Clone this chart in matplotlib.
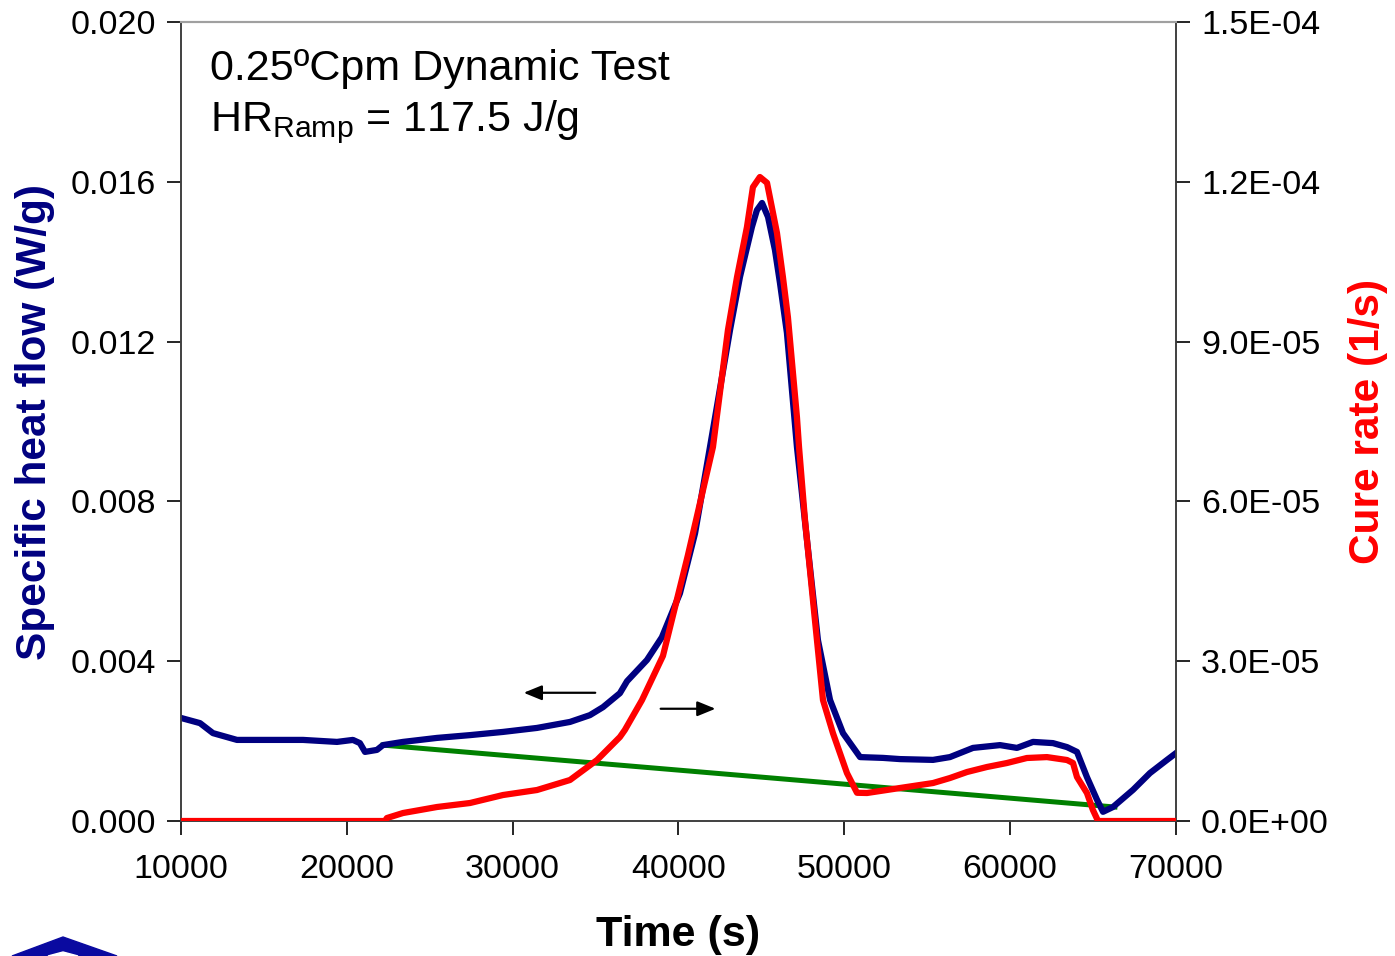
import matplotlib.pyplot as plt
from matplotlib.patches import Polygon

plt.rcParams['font.family'] = ['Liberation Sans', 'DejaVu Sans']
plt.rcParams['mathtext.fontset'] = 'custom'
plt.rcParams['mathtext.rm'] = 'Liberation Sans'

# heat flow (W/g), left axis
time_hf = [10000, 11150, 11930, 13380, 15370, 17360, 19410, 20370, 20790, 21100,
           21820, 22180, 23390, 25440, 27430, 29420, 31470, 33460, 34660, 35450,
           36470, 36900, 38100, 39000, 40090, 41000, 41900, 43110, 43710, 44430,
           44730, 45040, 45400, 45820, 46120, 46540, 47145, 47750, 48410, 49140,
           49920, 50950, 52330, 53360, 55350, 56370, 57760, 59390, 60410, 61380,
           62580, 63430, 64030, 64630, 65240, 65600, 66200, 67410, 68430, 69460,
           70000]
heat_flow = [0.00258, 0.00245, 0.00220, 0.00203, 0.00203, 0.00203, 0.00198, 0.00203,
             0.00195, 0.00173, 0.00178, 0.00190, 0.00198, 0.00208, 0.00215, 0.00223,
             0.00233, 0.00248, 0.00265, 0.00285, 0.00320, 0.00350, 0.00403, 0.00460,
             0.00570, 0.00720, 0.00936, 0.01229, 0.01362, 0.01487, 0.01529, 0.01547,
             0.01512, 0.01429, 0.01347, 0.01222, 0.00936, 0.00703, 0.00453, 0.00303,
             0.00220, 0.00160, 0.00158, 0.00155, 0.00153, 0.00160, 0.00183, 0.00190,
             0.00183, 0.00198, 0.00195, 0.00185, 0.00173, 0.00110, 0.00053, 0.00023,
             0.00035, 0.00078, 0.00120, 0.00153, 0.00170]

# cure rate (1/s), right axis
time_cr = [10000, 22300, 22420, 23390, 25440, 27430, 29420, 31470, 33460, 35090,
           36470, 36770, 37800, 39065, 40570, 42080, 42985, 43530, 44130, 44490,
           44910, 45340, 45940, 46300, 46600, 47145, 47270, 47630, 48230, 48715,
           49315, 50160, 50765, 51370, 53360, 55350, 56370, 57400, 58600, 59810,
           61010, 62220, 63430, 63790, 64030, 64630, 64990, 65300, 70000]
cure_rate = [0, 0, 5.6e-7, 1.5e-6, 2.63e-6, 3.38e-6, 4.88e-6, 5.82e-6, 7.7e-6, 1.145e-5,
             1.577e-5, 1.71e-5, 2.27e-5, 3.1e-5, 4.99e-5, 7.02e-5, 9.22e-5, 1.021e-4,
             1.115e-4, 1.19e-4, 1.209e-4, 1.198e-4, 1.104e-4, 1.021e-4, 9.46e-5,
             7.58e-5, 7.02e-5, 5.65e-5, 3.77e-5, 2.27e-5, 1.65e-5, 9.0e-6, 5.3e-6,
             5.26e-6, 6.2e-6, 7.13e-6, 8.07e-6, 9.2e-6, 1.014e-5, 1.089e-5, 1.183e-5,
             1.2e-5, 1.145e-5, 1.089e-5, 8.26e-6, 5.26e-6, 2.07e-6, 0, 0]

# baseline (W/g)
base_t = [22180, 66320]
base_hf = [0.00190, 0.00035]

fig = plt.figure(figsize=(13.95, 9.56), dpi=100)
ax1 = fig.add_axes([0.1297, 0.1412, 0.7133, 0.8358])
ax2 = ax1.twinx()

ax1.plot(time_hf, heat_flow, color='#000080', linewidth=4.5, zorder=3)
ax1.plot(base_t, base_hf, color='#008000', linewidth=3.6, zorder=2)
ax2.plot(time_cr, cure_rate, color='#ff0000', linewidth=4.5, zorder=4)

ax1.set_xlim(10000, 70000)
ax1.set_ylim(0, 0.020)
ax2.set_ylim(0, 1.5e-4)
ax1.set_xticks(range(10000, 70001, 10000))
ax1.set_yticks([0, 0.004, 0.008, 0.012, 0.016, 0.020])
ax1.set_yticklabels(['0.000', '0.004', '0.008', '0.012', '0.016', '0.020'])
rt = [0, 3e-5, 6e-5, 9e-5, 1.2e-4, 1.5e-4]
ax2.set_yticks(rt)
ax2.set_yticklabels(['0.0E+00', '3.0E-05', '6.0E-05', '9.0E-05', '1.2E-04', '1.5E-04'])

for ax in (ax1, ax2):
    ax.tick_params(labelsize=24.5, length=10, width=1.2, direction='out', pad=8)
    for s in ('left', 'right', 'bottom'):
        ax.spines[s].set_color('#404040')
        ax.spines[s].set_linewidth(1.2)
    ax.spines['top'].set_color('#a0a0a0')
    ax.spines['top'].set_linewidth(1.5)
ax1.tick_params(axis='x', pad=14)

ax1.set_xlabel('Time (s)', fontsize=31, fontweight='bold')
ax1.xaxis.set_label_coords(0.5, -0.118)
ax1.set_ylabel('Specific heat flow (W/g)', fontsize=30.5, fontweight='bold', color='#000080')
ax1.yaxis.set_label_coords(-0.127, 0.5)
ax2.set_ylabel('Cure rate (1/s)', fontsize=30.5, fontweight='bold', color='#ff0000', rotation=90)
ax2.yaxis.set_label_coords(1.173, 0.5)

ax1.text(0.029, 0.941, '0.25ºCpm Dynamic Test', transform=ax1.transAxes,
         fontsize=31, va='center', ha='left')
ax1.text(0.029, 0.874, 'HR$_{\\mathrm{Ramp}}$ = 117.5 J/g', transform=ax1.transAxes,
         fontsize=31, va='center', ha='left')

# arrows
ax1.annotate('', xy=(30500, 0.00321), xytext=(35150, 0.00321),
             arrowprops=dict(arrowstyle='-|>,head_length=1.1,head_width=0.45',
                             color='black', lw=1.6))
ax1.annotate('', xy=(42400, 0.00281), xytext=(38760, 0.00281),
             arrowprops=dict(arrowstyle='-|>,head_length=1.1,head_width=0.45',
                             color='black', lw=1.6))

# logo fragment at bottom left
W, H = 1395, 956
outer = Polygon([(12 / W, 0), (63 / W, 19 / H), (117 / W, 0)], closed=True,
                transform=fig.transFigure, color='#0a0aa0')
inner = Polygon([(48 / W, 0), (63 / W, 4 / H), (78 / W, 0)], closed=True,
                transform=fig.transFigure, color='white')
fig.patches.extend([outer, inner])

fig.savefig('out.png', dpi=100)
